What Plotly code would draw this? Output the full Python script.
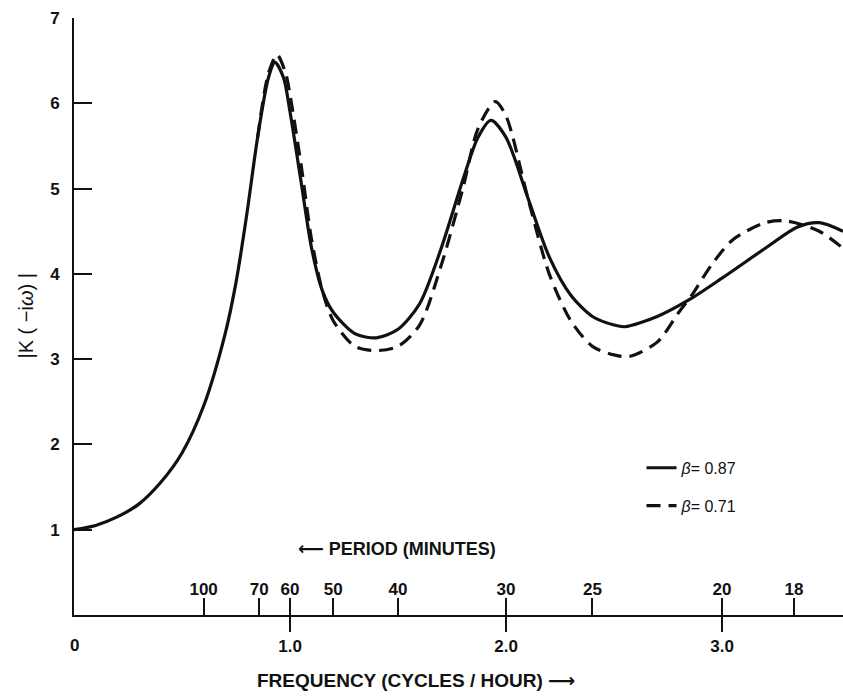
import plotly.graph_objects as go

# Data (frequency in cycles/hour, |K(-iw)|)
freq_solid = [0.0, 0.1, 0.2, 0.3, 0.4, 0.5, 0.6, 0.7, 0.75, 0.8, 0.85, 0.9, 0.93, 0.97, 1.0,
              1.05, 1.1, 1.15, 1.2, 1.3, 1.4, 1.5, 1.6, 1.7, 1.8, 1.87, 1.93, 2.0, 2.1, 2.2,
              2.3, 2.4, 2.5, 2.55, 2.7, 2.85, 3.0, 3.2, 3.35, 3.45, 3.56]
k_solid = [1.0, 1.05, 1.15, 1.3, 1.55, 1.9, 2.45, 3.3, 3.9, 4.7, 5.6, 6.3, 6.48, 6.3, 5.9,
           5.1, 4.3, 3.8, 3.55, 3.3, 3.25, 3.35, 3.65, 4.3, 5.1, 5.6, 5.8, 5.6, 4.9, 4.2,
           3.75, 3.5, 3.4, 3.38, 3.5, 3.7, 3.95, 4.3, 4.55, 4.6, 4.5]

freq_dash = [0.85, 0.9, 0.94, 0.98, 1.0, 1.05, 1.1, 1.15, 1.2, 1.3, 1.4, 1.5, 1.6, 1.7, 1.8,
             1.87, 1.95, 2.0, 2.1, 2.2, 2.3, 2.4, 2.5, 2.57, 2.7, 2.8, 2.86, 2.95, 3.05, 3.2,
             3.3, 3.45, 3.56]
k_dash = [5.6, 6.35, 6.57, 6.35, 6.1, 5.3, 4.4, 3.8, 3.45, 3.15, 3.1, 3.15, 3.4, 4.1, 5.0,
          5.7, 6.02, 5.85, 4.9, 4.0, 3.45, 3.15, 3.05, 3.03, 3.2, 3.55, 3.75, 4.1, 4.4, 4.6,
          4.62, 4.5, 4.3]

freq_ticks = [1, 2, 3]
freq_ticktext = ["1.0", "2.0", "3.0"]
period_minutes = [100, 70, 60, 50, 40, 30, 25, 20, 18]
y_ticks = [0, 1, 2, 3, 4, 5, 6, 7]

FONT = "Liberation Sans, Arial, Helvetica, DejaVu Sans, sans-serif"
INK = "#111111"
TICKFONT = dict(size=17, weight="bold", color=INK)

fig = go.Figure()
fig.add_trace(go.Scatter(x=freq_solid, y=k_solid, mode="lines",
                         line=dict(color=INK, width=3.2, shape="spline", smoothing=0.8),
                         name="<i>β</i>= 0.87", legendgroup="a"))
fig.add_trace(go.Scatter(x=freq_dash, y=k_dash, mode="lines",
                         line=dict(color=INK, width=3.2, dash="14px,8px", shape="spline", smoothing=0.8),
                         name="<i>β</i>= 0.71", legendgroup="b"))
# invisible trace to attach the period axis
fig.add_trace(go.Scatter(x=[0], y=[None], xaxis="x2", showlegend=False, hoverinfo="skip"))

fig.update_layout(
    width=843, height=696,
    margin=dict(l=74, r=0, t=18, b=81),
    paper_bgcolor="white", plot_bgcolor="white",
    font=dict(family=FONT, size=16, color=INK),
    showlegend=True,
    legend=dict(x=0.738, y=0.275, xanchor="left", yanchor="top",
                bgcolor="rgba(0,0,0,0)", tracegroupgap=14,
                font=dict(size=16, color=INK), itemwidth=30),
    xaxis=dict(range=[0, 3.56], showline=True, linecolor=INK, linewidth=2,
               ticks="outside", ticklen=15, tickwidth=2, tickcolor=INK,
               tickvals=freq_ticks, ticktext=freq_ticktext, showgrid=False, zeroline=False,
               tickfont=TICKFONT),
    xaxis2=dict(range=[0, 3.56], overlaying="x", anchor="y", side="bottom",
                matches="x", showline=False,
                ticks="inside", ticklen=17, tickwidth=2, tickcolor=INK,
                tickvals=[60.0 / p for p in period_minutes],
                ticktext=[str(p) for p in period_minutes],
                ticklabelposition="inside", showgrid=False, zeroline=False,
                tickfont=TICKFONT),
    yaxis=dict(range=[0, 7], showline=True, linecolor=INK, linewidth=2,
               ticks="inside", ticklen=18, tickwidth=2, tickcolor=INK,
               tickvals=y_ticks, showgrid=False, zeroline=False,
               ticklabelstandoff=9, tickfont=TICKFONT),
    annotations=[
        dict(x=0, y=0, xref="x", yref="paper", text="<b>0</b>", showarrow=False,
             yanchor="top", yshift=-19, font=dict(size=17)),
        dict(x=0.445, y=0, xref="paper", yref="paper", text="<b>FREQUENCY (CYCLES / HOUR) ⟶</b>",
             showarrow=False, yanchor="middle", yshift=-65, font=dict(size=19)),
        dict(x=0.42, y=0, xref="paper", yref="paper", text="<b>⟵ PERIOD (MINUTES)</b>",
             showarrow=False, yanchor="middle", yshift=66, font=dict(size=18)),
        dict(x=0, y=0.5, xref="paper", yref="paper", text="|K ( −i<i>ω</i>) |",
             showarrow=False, textangle=-90, xanchor="center", xshift=-49,
             font=dict(size=20)),
    ],
)

fig.write_html("out.html")
